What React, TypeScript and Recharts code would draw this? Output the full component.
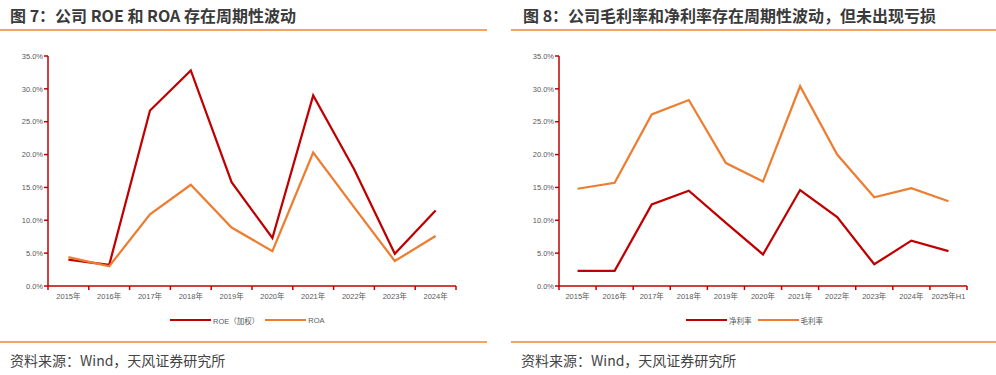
import { LineChart, Line, XAxis, YAxis, Legend } from "recharts";

const roeYears = ["2015年", "2016年", "2017年", "2018年", "2019年", "2020年", "2021年", "2022年", "2023年", "2024年"];
const roe = [4.0, 3.2, 26.7, 32.8, 15.8, 7.3, 29.0, 17.8, 4.9, 11.5];
const roa = [4.4, 3.0, 10.9, 15.4, 8.9, 5.3, 20.3, 12.0, 3.8, 7.6];

const marginYears = ["2015年", "2016年", "2017年", "2018年", "2019年", "2020年", "2021年", "2022年", "2023年", "2024年", "2025年H1"];
const netMargin = [2.3, 2.3, 12.4, 14.5, 9.6, 4.8, 14.6, 10.5, 3.3, 6.9, 5.3];
const grossMargin = [14.8, 15.7, 26.1, 28.3, 18.7, 15.9, 30.4, 20.0, 13.5, 14.9, 12.9];

const yTicks = [0, 5, 10, 15, 20, 25, 30, 35];

const RED = "#C00000";
const ORANGE = "#ED7D31";
const RULE = "#F6A55E";
const TICK_FONT = "'Liberation Sans', 'Noto Sans CJK SC', sans-serif";
const CJK_FONT = "'Noto Sans CJK SC', sans-serif";

const roeData = roeYears.map((year, i) => ({ year, roe: roe[i], roa: roa[i] }));
const marginData = marginYears.map((year, i) => ({ year, net: netMargin[i], gross: grossMargin[i] }));

const CHART_W = 490;
const CHART_H = 300;
const Y_W = 48;

// tick marks sit between the categories, like the excel original
const BandTick = (props: any) => {
  const { x, y, payload, index, count, band } = props;
  const half = band / 2;
  return (
    <g>
      <line x1={x - half} x2={x - half} y1={y} y2={y + 4} stroke={RED} strokeWidth={1.5} />
      {index === count - 1 && (
        <line x1={x + half} x2={x + half} y1={y} y2={y + 4} stroke={RED} strokeWidth={1.5} />
      )}
      <text x={x} y={y + 13} textAnchor="middle" fontSize={7.5} fill="#595959" fontFamily={TICK_FONT}>
        {payload.value}
      </text>
    </g>
  );
};

const LegendRow = ({ payload, pad, order }: any) => {
  const items = [...(payload || [])].sort(
    (a: any, b: any) => order.indexOf(a.dataKey) - order.indexOf(b.dataKey)
  );
  return (
    <div
      style={{
        display: "flex",
        alignItems: "center",
        height: 28,
        paddingLeft: pad,
        fontSize: 7.5,
        color: "#595959",
        fontFamily: TICK_FONT,
      }}
    >
      {items.map((it: any) => (
        <div key={it.value} style={{ display: "flex", alignItems: "center", marginRight: 6 }}>
          <span style={{ display: "inline-block", width: 41, height: 2.5, background: it.color, marginRight: 2 }} />
          {it.value}
        </div>
      ))}
    </div>
  );
};

const Panel = ({ data, cats, right, legendPad, series }: any) => {
  const band = (CHART_W - Y_W - right) / cats.length;
  const order = series.map((s: any) => s.key);
  return (
    <LineChart
      width={CHART_W}
      height={CHART_H}
      data={data}
      margin={{ top: 16, right, left: 0, bottom: 6 }}
    >
      <XAxis
        dataKey="year"
        scale="band"
        height={20}
        axisLine={{ stroke: RED, strokeWidth: 1.5 }}
        tickLine={false}
        tickSize={0}
        tickMargin={0}
        interval={0}
        tick={(p: any) => <BandTick {...p} count={cats.length} band={band} />}
      />
      <YAxis
        width={Y_W}
        domain={[0, 35]}
        ticks={yTicks}
        tickFormatter={(v: number) => `${v.toFixed(1)}%`}
        axisLine={{ stroke: RED, strokeWidth: 1.5 }}
        tickLine={{ stroke: RED, strokeWidth: 1.5 }}
        tickSize={4}
        tickMargin={1}
        tick={{ fontSize: 7.5, fill: "#595959", fontFamily: TICK_FONT }}
      />
      <Legend
        verticalAlign="bottom"
        height={28}
        content={(p: any) => <LegendRow payload={p.payload} pad={legendPad} order={order} />}
      />
      {series.map((s: any) => (
        <Line
          key={s.key}
          dataKey={s.key}
          name={s.name}
          stroke={s.color}
          strokeWidth={2.25}
          dot={false}
          activeDot={false}
          isAnimationActive={false}
        />
      ))}
    </LineChart>
  );
};

const App = () => {
  return (
    <div style={{ position: "absolute", left: 0, top: 0, width: 996, height: 375, background: "#fff", overflow: "hidden" }}>
      <div style={{ position: "absolute", left: 10, top: 3, fontSize: 16, fontWeight: 700, color: "#3a3a3a", fontFamily: CJK_FONT, whiteSpace: "nowrap" }}>
        图 7：公司 ROE 和 ROA 存在周期性波动
      </div>
      <div style={{ position: "absolute", left: 523, top: 3, fontSize: 16, fontWeight: 700, color: "#3a3a3a", fontFamily: CJK_FONT, whiteSpace: "nowrap" }}>
        图 8：公司毛利率和净利率存在周期性波动，但未出现亏损
      </div>
      <div style={{ position: "absolute", left: 0, top: 29, width: 487, height: 2, background: RULE }} />
      <div style={{ position: "absolute", left: 511, top: 29, width: 485, height: 2, background: RULE }} />

      <div style={{ position: "absolute", left: 0, top: 40 }}>
        <Panel
          data={roeData}
          cats={roeYears}
          right={34}
          legendPad={170}
          series={[
            { key: "roe", name: "ROE（加权）", color: RED },
            { key: "roa", name: "ROA", color: ORANGE },
          ]}
        />
      </div>
      <div style={{ position: "absolute", left: 511, top: 40 }}>
        <Panel
          data={marginData}
          cats={marginYears}
          right={34}
          legendPad={175}
          series={[
            { key: "net", name: "净利率", color: RED },
            { key: "gross", name: "毛利率", color: ORANGE },
          ]}
        />
      </div>

      <div style={{ position: "absolute", left: 0, top: 341, width: 487, height: 2, background: RULE }} />
      <div style={{ position: "absolute", left: 511, top: 341, width: 485, height: 2, background: RULE }} />
      <div style={{ position: "absolute", left: 10, top: 350, fontSize: 14, color: "#444", fontFamily: CJK_FONT, whiteSpace: "nowrap", lineHeight: "20px" }}>
        资料来源：Wind，天风证券研究所
      </div>
      <div style={{ position: "absolute", left: 521, top: 350, fontSize: 14, color: "#444", fontFamily: CJK_FONT, whiteSpace: "nowrap", lineHeight: "20px" }}>
        资料来源：Wind，天风证券研究所
      </div>
    </div>
  );
};

export default App;
